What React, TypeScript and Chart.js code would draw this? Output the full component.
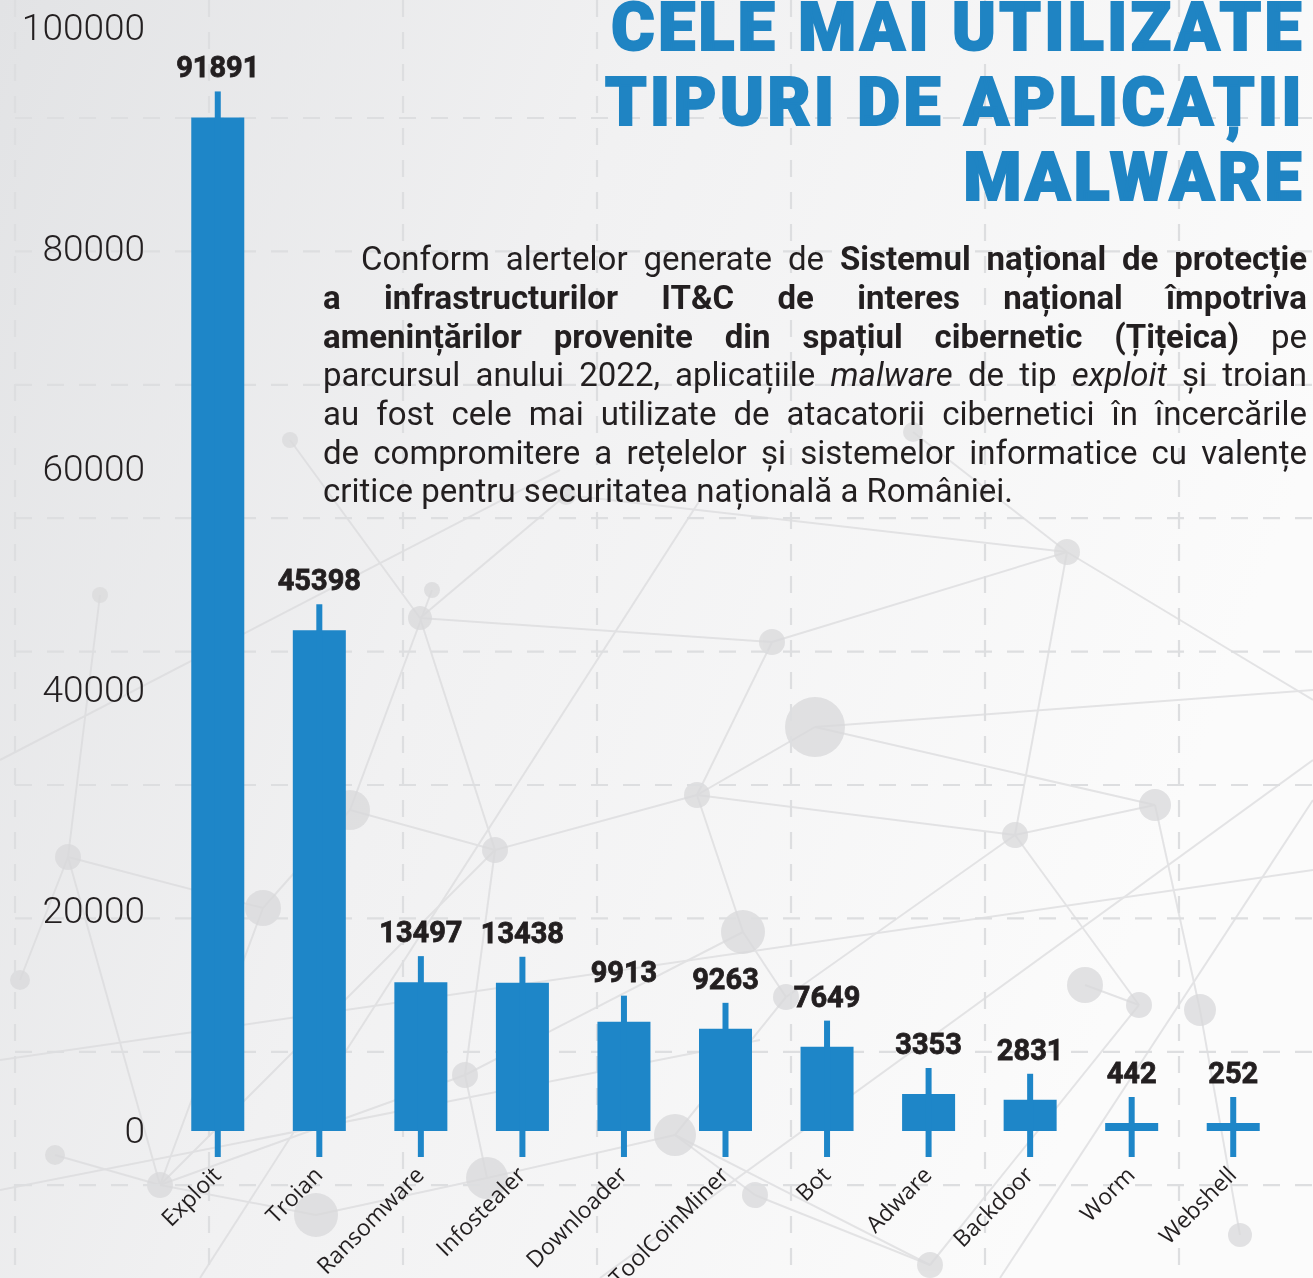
import React, { useEffect, useLayoutEffect, useRef } from "react";
import { Chart, registerables } from "chart.js";

Chart.register(...registerables);

const categories = [
  "Exploit",
  "Troian",
  "Ransomware",
  "Infostealer",
  "Downloader",
  "ToolCoinMiner",
  "Bot",
  "Adware",
  "Backdoor",
  "Worm",
  "Webshell",
];
const values = [91891, 45398, 13497, 13438, 9913, 9263, 7649, 3353, 2831, 442, 252];
const yMin = 0;
const yMax = 100000;
const yStep = 20000;

const titleLines = ["CELE MAI UTILIZATE", "TIPURI DE APLICAȚII", "MALWARE"];

const BLUE = "#1E86C8";
const TITLE_BLUE = "#1F84C3";
const INK = "#231f20";
const W = 1313;
const H = 1278;

// decorative background network (not data)
const nodes: [number, number, number][] = [
  [68, 857, 13], [160, 1185, 13], [263, 908, 18], [350, 810, 20], [420, 618, 12],
  [495, 850, 13], [465, 1075, 13], [487, 1178, 21], [316, 1215, 22], [566, 495, 10],
  [697, 795, 13], [743, 932, 22], [772, 642, 13], [815, 727, 30], [675, 1135, 21],
  [755, 1195, 13], [786, 997, 13], [930, 1265, 13], [1015, 835, 13], [1067, 552, 13],
  [1085, 985, 18], [1139, 1005, 13], [1155, 805, 16], [1200, 1010, 16], [913, 432, 10],
  [100, 595, 8], [290, 440, 8], [432, 590, 8], [20, 980, 10], [55, 1155, 10], [1240, 1235, 12],
];
const edges: [number, number][] = [
  [4, 5], [5, 6], [4, 12], [12, 10], [10, 5], [10, 18], [18, 22], [19, 18], [19, 12],
  [13, 10], [11, 10], [11, 6], [16, 18], [21, 18], [21, 17], [1, 0], [1, 5], [1, 6],
  [9, 4], [9, 19], [0, 2], [2, 3], [3, 5], [6, 7], [7, 8], [14, 16], [15, 14], [15, 17],
  [20, 21], [23, 22], [24, 19], [25, 0], [26, 4], [27, 3], [28, 0], [29, 1], [30, 23],
  [13, 22], [14, 7], [11, 16], [2, 1], [8, 1], [17, 14],
];
const longLines: [number, number, number, number][] = [
  [0, 1060, 1313, 870], [0, 1190, 760, 1040], [0, 760, 560, 470], [600, 1278, 1313, 760],
  [815, 727, 1313, 690], [1067, 552, 1313, 700], [200, 1278, 700, 500], [1000, 1278, 1313, 800],
];

function Background() {
  const hLines: number[] = [];
  for (let y = 118; y < H; y += 133.4) hLines.push(y);
  const vLines: number[] = [];
  for (let x = 15; x < W; x += 194) vLines.push(x);
  return (
    <svg width={W} height={H} style={{ position: "absolute", left: 0, top: 0 }}>
      <defs>
        <linearGradient id="bg" x1="0" y1="0" x2="1" y2="0.35">
          <stop offset="0" stopColor="#e2e3e5" />
          <stop offset="0.45" stopColor="#f1f1f2" />
          <stop offset="1" stopColor="#fbfbfb" />
        </linearGradient>
      </defs>
      <rect x={0} y={0} width={W} height={H} fill="url(#bg)" />
      <g stroke="#dadadc" strokeWidth={2} opacity={0.7}>
        {longLines.map((l, i) => (
          <line key={"l" + i} x1={l[0]} y1={l[1]} x2={l[2]} y2={l[3]} />
        ))}
        {edges.map((e, i) => (
          <line
            key={"e" + i}
            x1={nodes[e[0]][0]}
            y1={nodes[e[0]][1]}
            x2={nodes[e[1]][0]}
            y2={nodes[e[1]][1]}
          />
        ))}
      </g>
      <g fill="#d9d9db" opacity={0.75}>
        {nodes.map((n, i) => (
          <circle key={"n" + i} cx={n[0]} cy={n[1]} r={n[2]} />
        ))}
      </g>
      <g stroke="#dddee0" strokeWidth={2.2} strokeDasharray="17 15">
        {hLines.map((y, i) => (
          <line key={"h" + i} x1={15} y1={y} x2={W} y2={y} />
        ))}
        {vLines.map((x, i) => (
          <line key={"v" + i} x1={x} y1={0} x2={x} y2={H} />
        ))}
      </g>
    </svg>
  );
}

const wickPlugin = {
  id: "wicks",
  afterDatasetsDraw(chart: any) {
    const ctx = chart.ctx;
    const meta = chart.getDatasetMeta(0);
    ctx.save();
    meta.data.forEach((el: any, i: number) => {
      const { x, y, base } = el.getProps(["x", "y", "base"], true);
      ctx.fillStyle = BLUE;
      ctx.fillRect(x - 3, y - 26, 6, base - y + 52);
      ctx.font = "bold 29px Roboto";
      ctx.textAlign = "center";
      ctx.textBaseline = "alphabetic";
      ctx.fillStyle = INK;
      ctx.lineWidth = 0.8;
      ctx.strokeStyle = INK;
      ctx.fillText(String(values[i]), x, y - 40);
      ctx.strokeText(String(values[i]), x, y - 40);
    });
    ctx.restore();
  },
};

const PARA_LEFT = 323;
const PARA_WIDTH = 984;
const LINE_TOPS = [239, 278, 317, 355, 394, 433, 471];

function Line({
  top,
  indent = 0,
  last = false,
  children,
}: {
  top: number;
  indent?: number;
  last?: boolean;
  children: React.ReactNode;
}) {
  const outer = useRef<HTMLDivElement | null>(null);
  const inner = useRef<HTMLSpanElement | null>(null);
  useLayoutEffect(() => {
    if (!outer.current || !inner.current) return;
    const avail = PARA_WIDTH - indent;
    const w = inner.current.getBoundingClientRect().width;
    if (w > avail) {
      const n = (inner.current.textContent || "").length;
      outer.current.style.letterSpacing = ((avail - w) / n).toFixed(3) + "px";
    }
    inner.current.style.display = "inline";
  }, []);
  return (
    <div
      ref={outer}
      style={{
        position: "absolute",
        left: PARA_LEFT + indent,
        top,
        width: PARA_WIDTH - indent,
        fontFamily: "Roboto",
        fontSize: 33,
        lineHeight: "40px",
        color: INK,
        whiteSpace: "nowrap",
        textAlign: last ? "left" : "justify",
        textAlignLast: last ? "left" : "justify",
      }}
    >
      <span ref={inner} style={{ display: "inline-block" }}>
        {children}
      </span>
    </div>
  );
}

export default function App() {
  const ref = useRef<HTMLCanvasElement | null>(null);

  useEffect(() => {
    if (!ref.current) return;
    const chart = new Chart(ref.current, {
      type: "bar",
      data: {
        labels: categories,
        datasets: [
          {
            data: values,
            backgroundColor: BLUE,
            borderWidth: 0,
            barPercentage: 0.522,
            categoryPercentage: 1,
            minBarLength: 8,
          },
        ],
      },
      options: {
        animation: false,
        responsive: false,
        devicePixelRatio: 1,
        layout: { padding: { top: 28, right: 29, left: 0, bottom: 0 } },
        plugins: { legend: { display: false }, tooltip: { enabled: false } },
        scales: {
          y: {
            min: yMin,
            max: yMax,
            grid: { display: false, drawTicks: false },
            border: { display: false },
            ticks: {
              stepSize: yStep,
              padding: 22,
              labelOffset: 3,
              color: INK,
              font: { family: "Roboto", size: 37, weight: "300" },
              callback: (v: any) => String(v),
            },
            afterFit: (s: any) => {
              s.width = 167;
              s.paddingTop = 0;
              s.paddingBottom = 0;
            },
          },
          x: {
            grid: { display: false, drawTicks: false },
            border: { display: false },
            ticks: {
              autoSkip: false,
              maxRotation: 45,
              minRotation: 45,
              padding: 31,
              color: INK,
              font: { family: "Open Sans", size: 23 },
            },
            afterFit: (s: any) => {
              s.height = 147;
              s.paddingLeft = 0;
              s.paddingRight = 0;
            },
          },
        },
      },
      plugins: [wickPlugin],
    });
    return () => chart.destroy();
  }, []);

  return (
    <div style={{ position: "absolute", left: 0, top: 0, width: W, height: H, overflow: "hidden" }}>
      <Background />
      <canvas
        ref={ref}
        width={W}
        height={H}
        style={{ position: "absolute", left: 0, top: 0, width: W, height: H }}
      />
      <div
        style={{
          position: "absolute",
          right: 8,
          top: -10,
          textAlign: "right",
          fontFamily: "Roboto",
          fontWeight: 900,
          fontSize: 66,
          lineHeight: "75px",
          color: TITLE_BLUE,
          letterSpacing: 3.5,
          WebkitTextStroke: "2px " + TITLE_BLUE,
        }}
      >
        {titleLines.map((t, i) => (
          <div key={i}>{t}</div>
        ))}
      </div>
      <Line top={LINE_TOPS[0]} indent={38}>
        Conform alertelor generate de <b>Sistemul național de protecție</b>
      </Line>
      <Line top={LINE_TOPS[1]}>
        <b>a infrastructurilor IT&amp;C de interes național împotriva</b>
      </Line>
      <Line top={LINE_TOPS[2]}>
        <b>amenințărilor provenite din spațiul cibernetic (Țițeica)</b> pe
      </Line>
      <Line top={LINE_TOPS[3]}>
        parcursul anului 2022, aplicațiile <i>malware</i> de tip <i>exploit</i> și troian
      </Line>
      <Line top={LINE_TOPS[4]}>
        au fost cele mai utilizate de atacatorii cibernetici în încercările
      </Line>
      <Line top={LINE_TOPS[5]}>
        de compromitere a rețelelor și sistemelor informatice cu valențe
      </Line>
      <Line top={LINE_TOPS[6]} last>
        critice pentru securitatea națională a României.
      </Line>
    </div>
  );
}
